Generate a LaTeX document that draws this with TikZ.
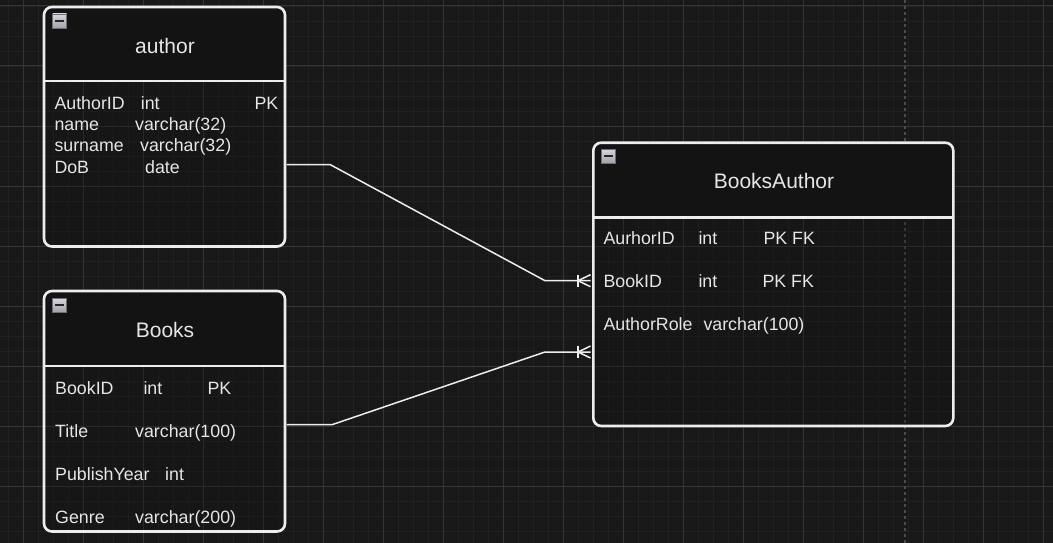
\documentclass[tikz,border=0pt]{standalone}
\usepackage{fontspec}
\setmainfont{Liberation Sans}
\definecolor{bgc}{HTML}{181818}
\definecolor{minorc}{HTML}{212121}
\definecolor{majorc}{HTML}{353535}
\definecolor{hdrc}{HTML}{131313}
\definecolor{edgec}{HTML}{EDEDED}
\definecolor{txtc}{HTML}{E6E6E6}
\definecolor{dashc}{HTML}{4C4C4C}
\definecolor{icontop}{HTML}{D6D6DC}
\definecolor{iconbot}{HTML}{A2A2AA}
\definecolor{iconline}{HTML}{6E6E76}
\definecolor{minusc}{HTML}{262626}
\tikzset{
  minorgrid/.style={draw=minorc, line width=0.8pt},
  majorgrid/.style={draw=majorc, line width=1pt},
  pagebreak/.style={draw=dashc, line width=1.2pt, dash pattern=on 3pt off 3pt},
  entitybox/.style={draw=edgec, line width=2.6pt, rounded corners=8pt, inner sep=0pt, outer sep=0pt, anchor=north west},
  divider/.style={draw=edgec, line width=2.6pt},
  conn/.style={draw=edgec, line width=1.5pt},
  rowtxt/.style={text=txtc, font=\fontsize{17.8}{20}\selectfont, anchor=base west, inner sep=0pt},
  titletxt/.style={text=txtc, font=\fontsize{21}{24}\selectfont, anchor=base, inner sep=0pt},
  collapseicon/.style={minimum size=14pt, inner sep=0pt, draw=iconline, line width=0.8pt,
    top color=icontop, bottom color=iconbot,
    path picture={\draw[minusc, line width=1.8pt] ([xshift=2.8pt]path picture bounding box.west) -- ([xshift=-2.8pt]path picture bounding box.east);}},
}
\begin{document}
\begin{tikzpicture}[x=1pt,y=-1pt]
\useasboundingbox (0,0) rectangle (1053,543);
\fill[bgc] (0,0) rectangle (1053,543);
% grid
\foreach \i in {0,...,70} {\draw[minorgrid] ({8.3+15*\i},0) -- ++(0,543);}
\foreach \i in {0,...,36} {\draw[minorgrid] (0,{6+15*\i}) -- ++(1053,0);}
\foreach \i in {0,...,17} {\draw[majorgrid] ({23.3+60*\i},0) -- ++(0,543);}
\foreach \i in {0,...,9} {\draw[majorgrid] (0,{6+60*\i}) -- ++(1053,0);}
% page break line
\draw[pagebreak] (905,0) -- (905,543);

% ---------- fills ----------
% author
\begin{scope}\clip (40,0) rectangle (290,81);
\fill[hdrc, rounded corners=8pt] (44,7) rectangle (285,246.5);\end{scope}
\begin{scope}\clip (40,81) rectangle (290,250);
\fill[hdrc, opacity=0.35, rounded corners=8pt] (44,7) rectangle (285,246.5);\end{scope}
% Books
\begin{scope}\clip (40,285) rectangle (290,366);
\fill[hdrc, rounded corners=8pt] (44,291) rectangle (285,531.5);\end{scope}
\begin{scope}\clip (40,366) rectangle (290,540);
\fill[hdrc, opacity=0.35, rounded corners=8pt] (44,291) rectangle (285,531.5);\end{scope}
% BooksAuthor
\begin{scope}\clip (590,138) rectangle (958,217.3);
\fill[hdrc, rounded corners=8pt] (593.3,142.7) rectangle (953.3,426);\end{scope}
\begin{scope}\clip (590,217.3) rectangle (958,430);
\fill[hdrc, opacity=0.35, rounded corners=8pt] (593.3,142.7) rectangle (953.3,426);\end{scope}

% ---------- entity boxes ----------
\node[entitybox, minimum width=241pt, minimum height=239.5pt] (author) at (44,7) {};
\draw[divider] (44,81) -- (285,81);
\node[entitybox, minimum width=241pt, minimum height=240.5pt] (books) at (44,291) {};
\draw[divider] (44,366) -- (285,366);
\node[entitybox, minimum width=360pt, minimum height=283.3pt] (booksauthor) at (593.3,142.7) {};
\draw[divider] (593.3,217.3) -- (953.3,217.3);

% collapse icons
\node[collapseicon] (aicon) at (59.5,21) {};
\node[collapseicon] (bicon) at (59.5,305) {};
\node[collapseicon] (baicon) at (608.5,156) {};

% ---------- author texts ----------
\node[titletxt] (atitle) at (165,53.3) {author};
\node[rowtxt] (a1) at (54.3,109.3) {AuthorID};
\node[rowtxt] (a1t) at (140.7,109.3) {int};
\node[rowtxt] (a1k) at (254.3,109.3) {PK};
\node[rowtxt] (a2) at (54.3,130.3) {name};
\node[rowtxt] (a2t) at (135,130.3) {varchar(32)};
\node[rowtxt] (a3) at (54.3,151.7) {surname};
\node[rowtxt] (a3t) at (140,151.7) {varchar(32)};
\node[rowtxt] (a4) at (54.3,173.3) {DoB};
\node[rowtxt] (a4t) at (145,173.3) {date};

% ---------- Books texts ----------
\node[titletxt] (btitle) at (165,337.7) {Books};
\node[rowtxt] (b1) at (55,394.3) {BookID};
\node[rowtxt] (b1t) at (143.3,394.3) {int};
\node[rowtxt] (b1k) at (207.3,394.3) {PK};
\node[rowtxt] (b2) at (55,437.3) {Title};
\node[rowtxt] (b2t) at (135,437.3) {varchar(100)};
\node[rowtxt] (b3) at (55,480) {PublishYear};
\node[rowtxt] (b3t) at (165,480) {int};
\node[rowtxt] (b4) at (55,523) {Genre};
\node[rowtxt] (b4t) at (135,523) {varchar(200)};

% ---------- BooksAuthor texts ----------
\node[titletxt] (batitle) at (774,188.3) {BooksAuthor};
\node[rowtxt] (ba1) at (603.3,244.3) {AurhorID};
\node[rowtxt] (ba1t) at (698.3,244.3) {int};
\node[rowtxt] (ba1k) at (763.3,244.3) {PK FK};
\node[rowtxt] (ba2) at (603.3,287) {BookID};
\node[rowtxt] (ba2t) at (698.3,287) {int};
\node[rowtxt] (ba2k) at (762.3,287) {PK FK};
\node[rowtxt] (ba3) at (603.3,330.7) {AuthorRole};
\node[rowtxt] (ba3t) at (703.3,330.7) {varchar(100)};

% ---------- connectors ----------
\coordinate (aout) at (286.5,164.5);
\coordinate (bain1) at (590.5,280.7);
\coordinate (bout) at (286.5,424.7);
\coordinate (bain2) at (590.5,352);

\draw[conn] (aout) -- ++(43.5,0) -- ([xshift=-45.5pt]bain1) -- (bain1);
\draw[conn] ([xshift=-12.5pt]bain1) -- ++(12.5,6);
\draw[conn] ([xshift=-12.5pt]bain1) -- ++(12.5,-6);
\draw[conn] ([xshift=-12.5pt,yshift=6pt]bain1) -- ++(0,12);

\draw[conn] (bout) -- ++(45.5,0) -- ([xshift=-45.5pt]bain2) -- (bain2);
\draw[conn] ([xshift=-12.5pt]bain2) -- ++(12.5,6);
\draw[conn] ([xshift=-12.5pt]bain2) -- ++(12.5,-6);
\draw[conn] ([xshift=-12.5pt,yshift=6pt]bain2) -- ++(0,12);
\end{tikzpicture}
\end{document}
